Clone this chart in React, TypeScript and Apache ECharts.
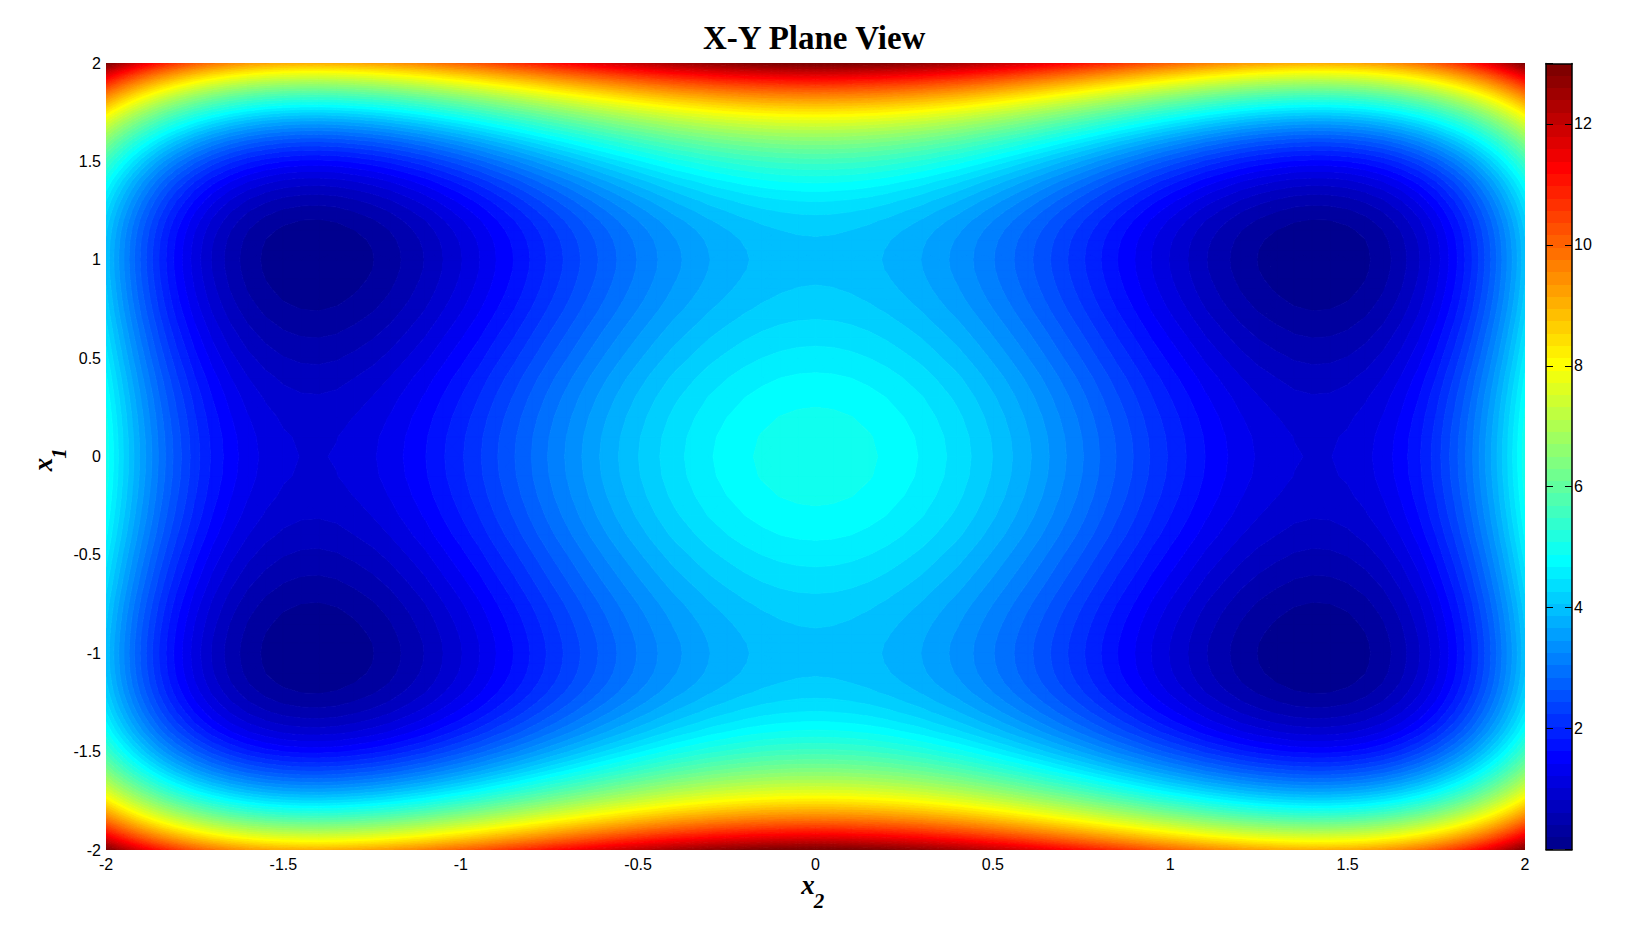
import React, { useEffect, useRef } from "react";
import * as echarts from "echarts";

// The reference is a filled contour plot that looks mirror-symmetric about both axes, so one
// quadrant is tabulated and mirrored. These values are typed estimates, not samples of the
// image's pixels: the row/column profiles were worked out from an assumed surface shape,
// (x1^2-1)^2 + (x2^2-2)^2, fitted to the colours and colourbar, then checked at several
// points of the picture. They are not computed at runtime. The band outlines between grid
// nodes are drawn the way a contourf does, by linear interpolation inside each grid cell.
const titleText = "X-Y Plane View";
const colorbarRange = [0, 13];

const x2Positions = [0,0.05,0.1,0.15,0.2,0.25,0.3,0.35,0.4,0.45,0.5,0.55,0.6,0.65,0.7,0.75,0.8,0.85,0.9,0.95,1,1.05,1.1,1.15,1.2,1.25,1.3,1.35,1.4,1.45,1.5,1.55,1.6,1.65,1.7,1.75,1.8,1.825,1.85,1.875,1.9,1.925,1.95,1.975,2];
const x1Positions = [0,0.1,0.2,0.3,0.4,0.5,0.6,0.7,0.75,0.8,0.85,0.9,0.95,1,1.05,1.1,1.15,1.2,1.25,1.3,1.35,1.4,1.45,1.5,1.55,1.6,1.65,1.7,1.75,1.8,1.825,1.85,1.875,1.9,1.925,1.95,1.975,2];

const r000 = [5.00,4.99,4.96,4.91,4.84,4.75,4.65,4.52,4.39,4.23,4.06,3.88,3.69,3.49,3.28,3.07,2.85,2.63,2.42,2.20,2.00,1.81,1.62,1.46,1.31,1.19,1.10,1.03,1.00,1.01,1.06,1.16,1.31,1.52,1.79,2.13,2.54,2.77,3.02,3.30,3.59,3.91,4.25,4.61,5.00];
const r010 = [4.98,4.97,4.94,4.89,4.82,4.73,4.63,4.50,4.37,4.21,4.04,3.86,3.67,3.47,3.26,3.05,2.83,2.61,2.40,2.18,1.98,1.79,1.60,1.44,1.29,1.17,1.08,1.01,.98,.99,1.04,1.14,1.29,1.50,1.77,2.11,2.52,2.75,3.00,3.28,3.57,3.89,4.23,4.59,4.98];
const r020 = [4.92,4.91,4.88,4.83,4.76,4.67,4.57,4.44,4.31,4.15,3.98,3.80,3.61,3.41,3.20,2.99,2.77,2.55,2.34,2.12,1.92,1.73,1.54,1.38,1.23,1.11,1.02,.95,.92,.93,.98,1.08,1.23,1.44,1.71,2.05,2.46,2.69,2.94,3.22,3.51,3.83,4.17,4.53,4.92];
const r030 = [4.83,4.82,4.79,4.74,4.67,4.58,4.48,4.35,4.22,4.06,3.89,3.71,3.52,3.32,3.11,2.90,2.68,2.46,2.25,2.03,1.83,1.64,1.45,1.29,1.14,1.02,.93,.86,.83,.84,.89,.99,1.14,1.35,1.62,1.96,2.37,2.60,2.85,3.13,3.42,3.74,4.08,4.44,4.83];
const r040 = [4.71,4.70,4.67,4.62,4.55,4.46,4.36,4.23,4.10,3.94,3.77,3.59,3.40,3.20,2.99,2.78,2.56,2.34,2.13,1.91,1.71,1.52,1.33,1.17,1.02,.90,.81,.74,.71,.72,.77,.87,1.02,1.23,1.50,1.84,2.25,2.48,2.73,3.01,3.30,3.62,3.96,4.32,4.71];
const r050 = [4.56,4.55,4.52,4.47,4.40,4.31,4.21,4.08,3.95,3.79,3.62,3.44,3.25,3.05,2.84,2.63,2.41,2.19,1.98,1.76,1.56,1.37,1.18,1.02,.87,.75,.66,.59,.56,.57,.62,.72,.87,1.08,1.35,1.69,2.10,2.33,2.58,2.86,3.15,3.47,3.81,4.17,4.56];
const r060 = [4.41,4.40,4.37,4.32,4.25,4.16,4.06,3.93,3.80,3.64,3.47,3.29,3.10,2.90,2.69,2.48,2.26,2.04,1.83,1.61,1.41,1.22,1.03,.87,.72,.60,.51,.44,.41,.42,.47,.57,.72,.93,1.20,1.54,1.95,2.18,2.43,2.71,3.00,3.32,3.66,4.02,4.41];
const r070 = [4.26,4.25,4.22,4.17,4.10,4.01,3.91,3.78,3.65,3.49,3.32,3.14,2.95,2.75,2.54,2.33,2.11,1.89,1.68,1.46,1.26,1.07,.88,.72,.57,.45,.36,.29,.26,.27,.32,.42,.57,.78,1.05,1.39,1.80,2.03,2.28,2.56,2.85,3.17,3.51,3.87,4.26];
const r075 = [4.19,4.18,4.15,4.10,4.03,3.94,3.84,3.71,3.58,3.42,3.25,3.07,2.88,2.68,2.47,2.26,2.04,1.82,1.61,1.39,1.19,1.00,.81,.65,.50,.38,.29,.22,.19,.20,.25,.35,.50,.71,.98,1.32,1.73,1.96,2.21,2.49,2.78,3.10,3.44,3.80,4.19];
const r080 = [4.13,4.12,4.09,4.04,3.97,3.88,3.78,3.65,3.52,3.36,3.19,3.01,2.82,2.62,2.41,2.20,1.98,1.76,1.55,1.33,1.13,.94,.75,.59,.44,.32,.23,.16,.13,.14,.19,.29,.44,.65,.92,1.26,1.67,1.90,2.15,2.43,2.72,3.04,3.38,3.74,4.13];
const r085 = [4.08,4.07,4.04,3.99,3.92,3.83,3.73,3.60,3.47,3.31,3.14,2.96,2.77,2.57,2.36,2.15,1.93,1.71,1.50,1.28,1.08,.89,.70,.54,.39,.27,.18,.11,.08,.09,.14,.24,.39,.60,.87,1.21,1.62,1.85,2.10,2.38,2.67,2.99,3.33,3.69,4.08];
const r090 = [4.04,4.03,4.00,3.95,3.88,3.79,3.69,3.56,3.43,3.27,3.10,2.92,2.73,2.53,2.32,2.11,1.89,1.67,1.46,1.24,1.04,.85,.66,.50,.35,.23,.14,.07,.04,.05,.10,.20,.35,.56,.83,1.17,1.58,1.81,2.06,2.34,2.63,2.95,3.29,3.65,4.04];
const r095 = [4.01,4.00,3.97,3.92,3.85,3.76,3.66,3.53,3.40,3.24,3.07,2.89,2.70,2.50,2.29,2.08,1.86,1.64,1.43,1.21,1.01,.82,.63,.47,.32,.20,.11,.04,.01,.02,.07,.17,.32,.53,.80,1.14,1.55,1.78,2.03,2.31,2.60,2.92,3.26,3.62,4.01];
const r100 = [4.00,3.99,3.96,3.91,3.84,3.75,3.65,3.52,3.39,3.23,3.06,2.88,2.69,2.49,2.28,2.07,1.85,1.63,1.42,1.20,1.00,.81,.62,.46,.31,.19,.10,.03,.00,.01,.06,.16,.31,.52,.79,1.13,1.54,1.77,2.02,2.30,2.59,2.91,3.25,3.61,4.00];
const r105 = [4.01,4.00,3.97,3.92,3.85,3.76,3.66,3.53,3.40,3.24,3.07,2.89,2.70,2.50,2.29,2.08,1.86,1.64,1.43,1.21,1.01,.82,.63,.47,.32,.20,.11,.04,.01,.02,.07,.17,.32,.53,.80,1.14,1.55,1.78,2.03,2.31,2.60,2.92,3.26,3.62,4.01];
const r110 = [4.04,4.03,4.00,3.95,3.88,3.79,3.69,3.56,3.43,3.27,3.10,2.92,2.73,2.53,2.32,2.11,1.89,1.67,1.46,1.24,1.04,.85,.66,.50,.35,.23,.14,.07,.04,.05,.10,.20,.35,.56,.83,1.17,1.58,1.81,2.06,2.34,2.63,2.95,3.29,3.65,4.04];
const r115 = [4.10,4.09,4.06,4.01,3.94,3.85,3.75,3.62,3.49,3.33,3.16,2.98,2.79,2.59,2.38,2.17,1.95,1.73,1.52,1.30,1.10,.91,.72,.56,.41,.29,.20,.13,.10,.11,.16,.26,.41,.62,.89,1.23,1.64,1.87,2.12,2.40,2.69,3.01,3.35,3.71,4.10];
const r120 = [4.19,4.18,4.15,4.10,4.03,3.94,3.84,3.71,3.58,3.42,3.25,3.07,2.88,2.68,2.47,2.26,2.04,1.82,1.61,1.39,1.19,1.00,.81,.65,.50,.38,.29,.22,.19,.20,.25,.35,.50,.71,.98,1.32,1.73,1.96,2.21,2.49,2.78,3.10,3.44,3.80,4.19];
const r125 = [4.32,4.31,4.28,4.23,4.16,4.07,3.97,3.84,3.71,3.55,3.38,3.20,3.01,2.81,2.60,2.39,2.17,1.95,1.74,1.52,1.32,1.13,.94,.78,.63,.51,.42,.35,.32,.33,.38,.48,.63,.84,1.11,1.45,1.86,2.09,2.34,2.62,2.91,3.23,3.57,3.93,4.32];
const r130 = [4.48,4.47,4.44,4.39,4.32,4.23,4.13,4.00,3.87,3.71,3.54,3.36,3.17,2.97,2.76,2.55,2.33,2.11,1.90,1.68,1.48,1.29,1.10,.94,.79,.67,.58,.51,.48,.49,.54,.64,.79,1.00,1.27,1.61,2.02,2.25,2.50,2.78,3.07,3.39,3.73,4.09,4.48];
const r135 = [4.68,4.67,4.64,4.59,4.52,4.43,4.33,4.20,4.07,3.91,3.74,3.56,3.37,3.17,2.96,2.75,2.53,2.31,2.10,1.88,1.68,1.49,1.30,1.14,.99,.87,.78,.71,.68,.69,.74,.84,.99,1.20,1.47,1.81,2.22,2.45,2.70,2.98,3.27,3.59,3.93,4.29,4.68];
const r140 = [4.92,4.91,4.88,4.83,4.76,4.67,4.57,4.44,4.31,4.15,3.98,3.80,3.61,3.41,3.20,2.99,2.77,2.55,2.34,2.12,1.92,1.73,1.54,1.38,1.23,1.11,1.02,.95,.92,.93,.98,1.08,1.23,1.44,1.71,2.05,2.46,2.69,2.94,3.22,3.51,3.83,4.17,4.53,4.92];
const r145 = [5.22,5.21,5.18,5.13,5.06,4.97,4.87,4.74,4.61,4.45,4.28,4.10,3.91,3.71,3.50,3.29,3.07,2.85,2.64,2.42,2.22,2.03,1.84,1.68,1.53,1.41,1.32,1.25,1.22,1.23,1.28,1.38,1.53,1.74,2.01,2.35,2.76,2.99,3.24,3.52,3.81,4.13,4.47,4.83,5.22];
const r150 = [5.56,5.55,5.52,5.47,5.40,5.31,5.21,5.08,4.95,4.79,4.62,4.44,4.25,4.05,3.84,3.63,3.41,3.19,2.98,2.76,2.56,2.37,2.18,2.02,1.87,1.75,1.66,1.59,1.56,1.57,1.62,1.72,1.87,2.08,2.35,2.69,3.10,3.33,3.58,3.86,4.15,4.47,4.81,5.17,5.56];
const r155 = [5.97,5.96,5.93,5.88,5.81,5.72,5.62,5.49,5.36,5.20,5.03,4.85,4.66,4.46,4.25,4.04,3.82,3.60,3.39,3.17,2.97,2.78,2.59,2.43,2.28,2.16,2.07,2.00,1.97,1.98,2.03,2.13,2.28,2.49,2.76,3.10,3.51,3.74,3.99,4.27,4.56,4.88,5.22,5.58,5.97];
const r160 = [6.43,6.42,6.39,6.34,6.27,6.18,6.08,5.95,5.82,5.66,5.49,5.31,5.12,4.92,4.71,4.50,4.28,4.06,3.85,3.63,3.43,3.24,3.05,2.89,2.74,2.62,2.53,2.46,2.43,2.44,2.49,2.59,2.74,2.95,3.22,3.56,3.97,4.20,4.45,4.73,5.02,5.34,5.68,6.04,6.43];
const r165 = [6.97,6.96,6.93,6.88,6.81,6.72,6.62,6.49,6.36,6.20,6.03,5.85,5.66,5.46,5.25,5.04,4.82,4.60,4.39,4.17,3.97,3.78,3.59,3.43,3.28,3.16,3.07,3.00,2.97,2.98,3.03,3.13,3.28,3.49,3.76,4.10,4.51,4.74,4.99,5.27,5.56,5.88,6.22,6.58,6.97];
const r170 = [7.57,7.56,7.53,7.48,7.41,7.32,7.22,7.09,6.96,6.80,6.63,6.45,6.26,6.06,5.85,5.64,5.42,5.20,4.99,4.77,4.57,4.38,4.19,4.03,3.88,3.76,3.67,3.60,3.57,3.58,3.63,3.73,3.88,4.09,4.36,4.70,5.11,5.34,5.59,5.87,6.16,6.48,6.82,7.18,7.57];
const r175 = [8.25,8.24,8.21,8.16,8.09,8.00,7.90,7.77,7.64,7.48,7.31,7.13,6.94,6.74,6.53,6.32,6.10,5.88,5.67,5.45,5.25,5.06,4.87,4.71,4.56,4.44,4.35,4.28,4.25,4.26,4.31,4.41,4.56,4.77,5.04,5.38,5.79,6.02,6.27,6.55,6.84,7.16,7.50,7.86,8.25];
const r180 = [9.02,9.01,8.98,8.93,8.86,8.77,8.67,8.54,8.41,8.25,8.08,7.90,7.71,7.51,7.30,7.09,6.87,6.65,6.44,6.22,6.02,5.83,5.64,5.48,5.33,5.21,5.12,5.05,5.02,5.03,5.08,5.18,5.33,5.54,5.81,6.15,6.56,6.79,7.04,7.32,7.61,7.93,8.27,8.63,9.02];
const r1825 = [9.43,9.42,9.39,9.34,9.27,9.18,9.08,8.95,8.82,8.66,8.49,8.31,8.12,7.92,7.71,7.50,7.28,7.06,6.85,6.63,6.43,6.24,6.05,5.89,5.74,5.62,5.53,5.46,5.43,5.44,5.49,5.59,5.74,5.95,6.22,6.56,6.97,7.20,7.45,7.73,8.02,8.34,8.68,9.04,9.43];
const r185 = [9.87,9.86,9.83,9.78,9.71,9.62,9.52,9.39,9.26,9.10,8.93,8.75,8.56,8.36,8.15,7.94,7.72,7.50,7.29,7.07,6.87,6.68,6.49,6.33,6.18,6.06,5.97,5.90,5.87,5.88,5.93,6.03,6.18,6.39,6.66,7.00,7.41,7.64,7.89,8.17,8.46,8.78,9.12,9.48,9.87];
const r1875 = [10.33,10.32,10.29,10.24,10.17,10.08,9.98,9.85,9.72,9.56,9.39,9.21,9.02,8.82,8.61,8.40,8.18,7.96,7.75,7.53,7.33,7.14,6.95,6.79,6.64,6.52,6.43,6.36,6.33,6.34,6.39,6.49,6.64,6.85,7.12,7.46,7.87,8.10,8.35,8.63,8.92,9.24,9.58,9.94,10.33];
const r190 = [10.81,10.80,10.77,10.72,10.65,10.56,10.46,10.33,10.20,10.04,9.87,9.69,9.50,9.30,9.09,8.88,8.66,8.44,8.23,8.01,7.81,7.62,7.43,7.27,7.12,7.00,6.91,6.84,6.81,6.82,6.87,6.97,7.12,7.33,7.60,7.94,8.35,8.58,8.83,9.11,9.40,9.72,10.06,10.42,10.81];
const r1925 = [11.32,11.31,11.28,11.23,11.16,11.07,10.97,10.84,10.71,10.55,10.38,10.20,10.01,9.81,9.60,9.39,9.17,8.95,8.74,8.52,8.32,8.13,7.94,7.78,7.63,7.51,7.42,7.35,7.32,7.33,7.38,7.48,7.63,7.84,8.11,8.45,8.86,9.09,9.34,9.62,9.91,10.23,10.57,10.93,11.32];
const r195 = [11.85,11.84,11.81,11.76,11.69,11.60,11.50,11.37,11.24,11.08,10.91,10.73,10.54,10.34,10.13,9.92,9.70,9.48,9.27,9.05,8.85,8.66,8.47,8.31,8.16,8.04,7.95,7.88,7.85,7.86,7.91,8.01,8.16,8.37,8.64,8.98,9.39,9.62,9.87,10.15,10.44,10.76,11.10,11.46,11.85];
const r1975 = [12.41,12.40,12.37,12.32,12.25,12.16,12.06,11.93,11.80,11.64,11.47,11.29,11.10,10.90,10.69,10.48,10.26,10.04,9.83,9.61,9.41,9.22,9.03,8.87,8.72,8.60,8.51,8.44,8.41,8.42,8.47,8.57,8.72,8.93,9.20,9.54,9.95,10.18,10.43,10.71,11.00,11.32,11.66,12.02,12.41];
const r200 = [13.00,12.99,12.96,12.91,12.84,12.75,12.65,12.52,12.39,12.23,12.06,11.88,11.69,11.49,11.28,11.07,10.85,10.63,10.42,10.20,10.00,9.81,9.62,9.46,9.31,9.19,9.10,9.03,9.00,9.01,9.06,9.16,9.31,9.52,9.79,10.13,10.54,10.77,11.02,11.30,11.59,11.91,12.25,12.61,13.00];

const quadrantRows = [r000,r010,r020,r030,r040,r050,r060,r070,r075,r080,r085,r090,r095,r100,r105,r110,r115,r120,r125,r130,r135,r140,r145,r150,r155,r160,r165,r170,r175,r180,r1825,r185,r1875,r190,r1925,r195,r1975,r200];

// Mirror the tabulated quadrant onto the full plane.
function mirrored(pos: number[]) {
  const out: { v: number; i: number }[] = [];
  for (let i = pos.length - 1; i > 0; i--) out.push({ v: -pos[i], i });
  for (let i = 0; i < pos.length; i++) out.push({ v: pos[i], i });
  return out;
}
const xFull = mirrored(x2Positions);
const yFull = mirrored(x1Positions);

// MATLAB's 64-step jet colormap.
const LEVELS = 64;
const STEP = (colorbarRange[1] - colorbarRange[0]) / LEVELS;
function jetLevel(k: number) {
  const t = (k + 1) / LEVELS;
  const ch = (c: number) => Math.round(255 * Math.min(1, Math.max(0, 1.5 - Math.abs(4 * t - c))));
  return `rgb(${ch(3)},${ch(2)},${ch(1)})`;
}

type V = [number, number, number];
// Clip a polygon whose vertices carry a value to the half-space value >= t (sign 1) or <= t (sign -1).
function clip(poly: V[], t: number, sign: number): V[] {
  const out: V[] = [];
  for (let i = 0; i < poly.length; i++) {
    const a = poly[i];
    const b = poly[(i + 1) % poly.length];
    const ia = sign * (a[2] - t) >= 0;
    const ib = sign * (b[2] - t) >= 0;
    if (ia) out.push(a);
    if (ia !== ib) {
      const f = (t - a[2]) / (b[2] - a[2]);
      out.push([a[0] + f * (b[0] - a[0]), a[1] + f * (b[1] - a[1]), t]);
    }
  }
  return out;
}
const bandPolys: V[][][] = Array.from({ length: LEVELS }, () => []);
function addTriangle(tri: V[]) {
  const vals = tri.map((p) => p[2]);
  const kLo = Math.min(LEVELS - 1, Math.floor(Math.min(...vals) / STEP));
  const kHi = Math.min(LEVELS - 1, Math.floor(Math.max(...vals) / STEP));
  if (kLo === kHi) {
    bandPolys[kLo].push(tri);
    return;
  }
  for (let k = kLo; k <= kHi; k++) {
    let p = clip(tri, k * STEP, 1);
    if (k < LEVELS - 1) p = clip(p, (k + 1) * STEP, -1);
    if (p.length >= 3) bandPolys[k].push(p);
  }
}
for (let r = 0; r < yFull.length - 1; r++) {
  for (let c = 0; c < xFull.length - 1; c++) {
    const val = (rr: number, cc: number) => quadrantRows[yFull[rr].i][xFull[cc].i];
    const a: V = [xFull[c].v, yFull[r].v, val(r, c)];
    const b: V = [xFull[c + 1].v, yFull[r].v, val(r, c + 1)];
    const d: V = [xFull[c + 1].v, yFull[r + 1].v, val(r + 1, c + 1)];
    const e: V = [xFull[c].v, yFull[r + 1].v, val(r + 1, c)];
    const m: V = [(a[0] + b[0]) / 2, (a[1] + e[1]) / 2, (a[2] + b[2] + d[2] + e[2]) / 4];
    addTriangle([a, b, m]);
    addTriangle([b, d, m]);
    addTriangle([d, e, m]);
    addTriangle([e, a, m]);
  }
}
const levelIds = bandPolys.map((_, k) => [k]);

function renderBand(_p: any, api: any) {
  const k = api.value(0);
  const parts: string[] = [];
  for (const poly of bandPolys[k]) {
    let s = "";
    for (let i = 0; i < poly.length; i++) {
      const q = api.coord([poly[i][0], poly[i][1]]);
      s += (i === 0 ? "M" : "L") + q[0].toFixed(1) + " " + q[1].toFixed(1);
    }
    parts.push(s + "Z");
  }
  const fill = jetLevel(k);
  return {
    type: "path",
    silent: true,
    shape: { pathData: parts.join("") || "M0 0Z" },
    style: { fill, stroke: fill, lineWidth: 0.8 },
  };
}

const colorbarCells = levelIds.map(([k]) => [0, 1, k * STEP, (k + 1) * STEP, k]);
function renderBarCell(_p: any, api: any) {
  const a = api.coord([api.value(0), api.value(2)]);
  const b = api.coord([api.value(1), api.value(3)]);
  const y0 = Math.round(Math.min(a[1], b[1]));
  const y1 = Math.round(Math.max(a[1], b[1]));
  return {
    type: "rect",
    silent: true,
    shape: { x: a[0], y: y0, width: b[0] - a[0], height: y1 - y0 },
    style: { fill: jetLevel(api.value(4)) },
  };
}

const sans = "'Liberation Sans', Arial, sans-serif";
const serif = "'Liberation Serif', 'Times New Roman', serif";
const xFont = `italic bold 27px ${serif}`;
const subFont = `italic bold 21px ${serif}`;

export default function App() {
  const ref = useRef<HTMLDivElement>(null);
  useEffect(() => {
    if (!ref.current) return;
    const chart = echarts.init(ref.current, undefined, { renderer: "svg" });
    const blackLine = { show: true, onZero: false, lineStyle: { color: "#000", width: 1.5 } };
    const labelBlack = { color: "#000", fontFamily: sans, fontSize: 16 };
    chart.setOption({
      animation: false,
      backgroundColor: "#fff",
      title: {
        text: titleText,
        left: 698,
        top: 16,
        textStyle: { fontFamily: serif, fontWeight: "bold", fontSize: 33, color: "#000" },
      },
      grid: [
        { left: 106, top: 63, width: 1419, height: 787 },
        { left: 1546, top: 63.5, width: 26, height: 786 },
      ],
      xAxis: [
        {
          type: "value", gridIndex: 0, min: -2, max: 2, interval: 0.5,
          axisLine: { show: false }, axisTick: { show: false }, splitLine: { show: false },
          axisLabel: { ...labelBlack, margin: 6 },
        },
        { type: "value", gridIndex: 1, z: 5, min: 0, max: 1, position: "bottom", axisLine: blackLine, axisTick: { show: false }, axisLabel: { show: false }, splitLine: { show: false } },
        { type: "value", gridIndex: 1, z: 5, min: 0, max: 1, position: "top", axisLine: blackLine, axisTick: { show: false }, axisLabel: { show: false }, splitLine: { show: false } },
      ],
      yAxis: [
        {
          type: "value", gridIndex: 0, min: -2, max: 2, interval: 0.5,
          axisLine: { show: false }, axisTick: { show: false }, splitLine: { show: false },
          axisLabel: { ...labelBlack, margin: 5, padding: [7, 0, 0, 0] },
        },
        {
          type: "value", gridIndex: 1, z: 5, min: 0, max: 13, interval: 2, position: "right",
          axisLine: blackLine,
          axisTick: { show: true, inside: true, length: 7, lineStyle: { color: "#000", width: 1 } },
          axisLabel: { ...labelBlack, margin: 2, padding: [2, 0, 0, 0], showMaxLabel: false, formatter: (v: number) => (v === 0 ? "" : String(v)) },
          splitLine: { show: false },
        },
        {
          type: "value", gridIndex: 1, z: 5, min: 0, max: 13, interval: 2, position: "left",
          axisLine: blackLine,
          axisTick: { show: true, inside: true, length: 7, lineStyle: { color: "#000", width: 1 } },
          axisLabel: { show: false },
          splitLine: { show: false },
        },
      ],
      graphic: [
        { type: "text", x: 808, y: 885, silent: true, style: { text: "x", font: xFont, fill: "#000", align: "center", verticalAlign: "middle" } },
        { type: "text", x: 819, y: 901, silent: true, style: { text: "2", font: subFont, fill: "#000", align: "center", verticalAlign: "middle" } },
        { type: "text", x: 43, y: 464.5, rotation: Math.PI / 2, silent: true, style: { text: "x", font: xFont, fill: "#000", align: "center", verticalAlign: "middle" } },
        { type: "text", x: 59, y: 453.5, rotation: Math.PI / 2, silent: true, style: { text: "1", font: subFont, fill: "#000", align: "center", verticalAlign: "middle" } },
      ],
      series: [
        {
          type: "custom", xAxisIndex: 0, yAxisIndex: 0, data: levelIds, renderItem: renderBand,
          encode: { x: [], y: [] }, silent: true, progressive: 0, clip: true,
        },
        {
          type: "custom", xAxisIndex: 1, yAxisIndex: 1, data: colorbarCells, renderItem: renderBarCell,
          encode: { x: [0, 1], y: [2, 3] }, silent: true, progressive: 0, clip: true,
        },
      ],
    });
    return () => chart.dispose();
  }, []);
  return <div ref={ref} style={{ position: "absolute", left: 0, top: 0, width: 1632, height: 945 }} />;
}
